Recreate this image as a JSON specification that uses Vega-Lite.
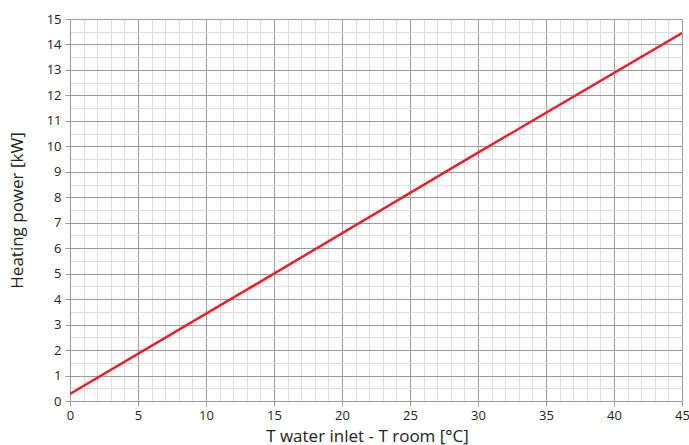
{
  "$schema": "https://vega.github.io/schema/vega-lite/v6.json",
  "width": 612,
  "height": 382,
  "autosize": {"type": "none"},
  "padding": {"left": 70, "top": 19, "right": 7, "bottom": 44},
  "background": "white",
  "config": {
    "view": {"stroke": "#9a9a9a", "strokeWidth": 1},
    "font": "Open Sans"
  },
  "data": {
    "values": [
      {"dt": 0, "power": 0.28},
      {"dt": 15, "power": 5.0},
      {"dt": 30, "power": 9.75},
      {"dt": 45, "power": 14.45}
    ]
  },
  "mark": {"type": "line", "color": "#e8202a", "strokeWidth": 2.5, "clip": true},
  "encoding": {
    "x": {
      "field": "dt",
      "type": "quantitative",
      "scale": {"domain": [0, 45], "nice": false, "zero": false},
      "axis": {
        "title": "T water inlet - T room [°C]",
        "titleFont": "Open Sans",
        "titleFontSize": 17,
        "titleFontWeight": "normal",
        "titleColor": "#222",
        "titlePadding": 6,
        "titleX": 297,
        "values": [0,1,2,3,4,5,6,7,8,9,10,11,12,13,14,15,16,17,18,19,20,21,22,23,24,25,26,27,28,29,30,31,32,33,34,35,36,37,38,39,40,41,42,43,44,45],
        "labelExpr": "datum.value % 5 === 0 ? format(datum.value, 'd') : ''",
        "labelFontSize": 13,
        "labelColor": "#222",
        "labelPadding": 3,
        "labelFlush": false,
        "labelOverlap": false,
        "domain": true,
        "domainColor": "#9a9a9a",
        "tickColor": "#9a9a9a",
        "tickSize": {"condition": {"test": "datum.value % 5 === 0", "value": 5}, "value": 0},
        "grid": true,
        "gridColor": {"condition": {"test": "datum.value % 5 === 0", "value": "#9a9a9a"}, "value": "#dcdcdc"},
        "gridWidth": 1
      }
    },
    "y": {
      "field": "power",
      "type": "quantitative",
      "scale": {"domain": [0, 15], "nice": false},
      "axis": {
        "title": "Heating power [kW]",
        "titleFont": "Open Sans",
        "titleFontSize": 17,
        "titleFontWeight": "normal",
        "titleColor": "#222",
        "titlePadding": 20,
        "values": [0,0.5,1,1.5,2,2.5,3,3.5,4,4.5,5,5.5,6,6.5,7,7.5,8,8.5,9,9.5,10,10.5,11,11.5,12,12.5,13,13.5,14,14.5,15],
        "labelExpr": "datum.value % 1 === 0 ? format(datum.value, 'd') : ''",
        "labelFontSize": 13,
        "labelColor": "#222",
        "labelPadding": 4,
        "labelFlush": false,
        "labelOverlap": false,
        "domain": true,
        "domainColor": "#9a9a9a",
        "tickColor": "#9a9a9a",
        "tickSize": {"condition": {"test": "datum.value % 1 === 0", "value": 5}, "value": 0},
        "grid": true,
        "gridColor": {"condition": {"test": "datum.value % 1 === 0", "value": "#9a9a9a"}, "value": "#dcdcdc"},
        "gridWidth": 1
      }
    }
  }
}
